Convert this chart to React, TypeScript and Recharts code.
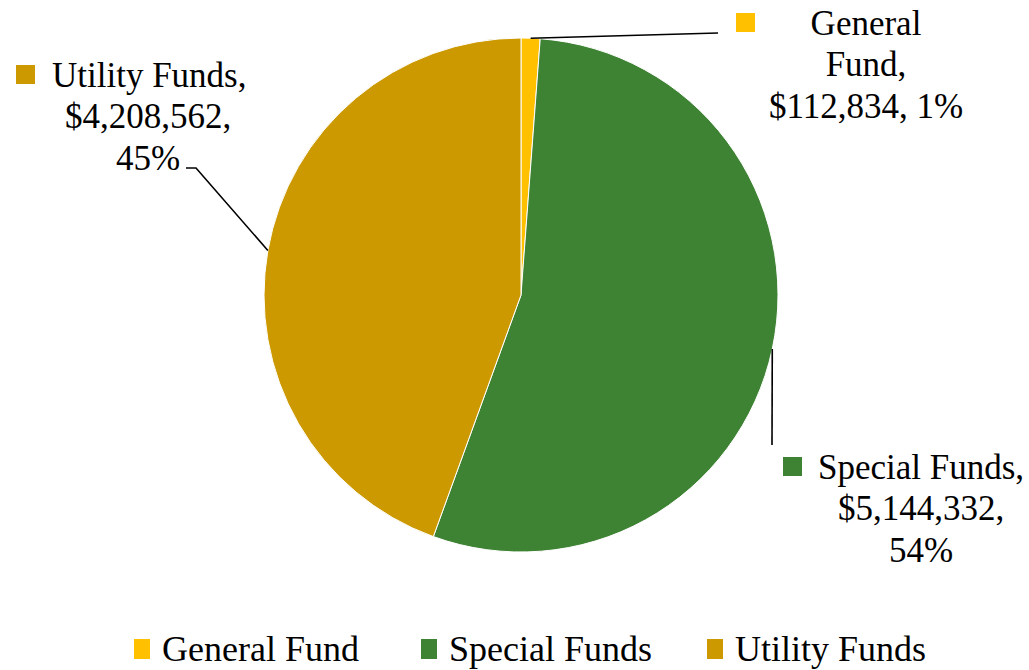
import { PieChart, Pie, Cell } from 'recharts';

const funds = ['General Fund', 'Special Funds', 'Utility Funds'];
const amounts = [112834, 5144332, 4208562];
const colors = ['#FFC000', '#3E8233', '#CC9900'];

const data = funds.map((name, i) => ({ name, value: amounts[i] }));
const total = amounts.reduce((a, b) => a + b, 0);

// whole percents that add to 100 (largest remainder, like Excel shows)
const rawPct = amounts.map((v) => (v / total) * 100);
const pcts = rawPct.map((p) => Math.floor(p));
const order = rawPct.map((p, i) => [p - Math.floor(p), i]).sort((a, b) => b[0] - a[0]);
for (let k = 0; k < 100 - pcts.reduce((a, b) => a + b, 0); k++) pcts[order[k][1]] += 1;

const FONT = '"Liberation Serif", "DejaVu Serif", serif';

// label placement relative to the pie centre
const labelLayout: Record<string, { keyX: number; keyY: number; startX?: number; x: number; y: number; leader: number[][] }> = {
  'General Fund': { keyX: 215, keyY: -282, x: 345, y: -272, leader: [[197, -262]] },
  'Special Funds': { keyX: 262, keyY: -(-162), startX: 297, x: 400, y: 172, leader: [[251, 150]] },
  'Utility Funds': { keyX: -505, keyY: -230, startX: -469, x: -373, y: -220, leader: [[-325, -127], [-335, -127]] },
};

const fmt = (v: number) => '$' + v.toLocaleString('en-US');

function renderLabel(props: any) {
  const { cx, cy, midAngle, outerRadius, name, value, index } = props;
  const RAD = Math.PI / 180;
  const sx = cx + outerRadius * Math.cos(-midAngle * RAD);
  const sy = cy + outerRadius * Math.sin(-midAngle * RAD);
  const lay = labelLayout[name];
  const pct = pcts[index] + '%';
  const lines =
    name === 'General Fund' ? ['General', 'Fund,', `${fmt(value)}, ${pct}`] : [name + ',', fmt(value) + ',', pct];
  const pts = [[sx, sy], ...lay.leader.map(([dx, dy]) => [cx + dx, cy + dy])];
  return (
    <g key={`lbl-${index}`}>
      <polyline points={pts.map((p) => p.join(',')).join(' ')} fill="none" stroke="#000" strokeWidth={1.6} />
      <rect x={cx + lay.keyX} y={cy + lay.keyY} width={19} height={19} fill={colors[index]} />
      {lines.map((l, i) => {
        const first = i === 0 && lay.startX !== undefined;
        return (
          <text
            key={i}
            x={cx + (first ? lay.startX! : lay.x)}
            y={cy + lay.y + i * 41.5}
            textAnchor={first ? 'start' : 'middle'}
            dominantBaseline="central"
            fontFamily={FONT}
            fontSize={35}
            fill="#000"
          >
            {l}
          </text>
        );
      })}
    </g>
  );
}

const legendX = [134, 421, 707];

function LegendRow() {
  return (
    <div style={{ position: 'absolute', top: 629, left: 0, width: 1029, height: 40, fontFamily: FONT, fontSize: 36, color: '#000' }}>
      {funds.map((f, i) => (
        <div
          key={f}
          style={{ position: 'absolute', left: legendX[i], top: 0, display: 'flex', alignItems: 'center', lineHeight: '40px', whiteSpace: 'nowrap' }}
        >
          <span style={{ width: 16, height: 20, background: colors[i], marginRight: 12, display: 'inline-block' }} />
          <span>{f}</span>
        </div>
      ))}
    </div>
  );
}

export default function App() {
  return (
    <div style={{ position: 'absolute', left: 0, top: 0, width: 1029, height: 670, background: '#fff' }}>
      <PieChart width={1029} height={670} margin={{ top: 0, right: 0, bottom: 0, left: 0 }}>
        <Pie
          data={data}
          dataKey="value"
          nameKey="name"
          cx={521}
          cy={295}
          outerRadius={257}
          startAngle={90}
          endAngle={-270}
          stroke="#fff"
          strokeWidth={1}
          label={renderLabel}
          labelLine={false}
          isAnimationActive={false}
        >
          {data.map((d, i) => (
            <Cell key={d.name} fill={colors[i]} />
          ))}
        </Pie>
      </PieChart>
      <LegendRow />
    </div>
  );
}
